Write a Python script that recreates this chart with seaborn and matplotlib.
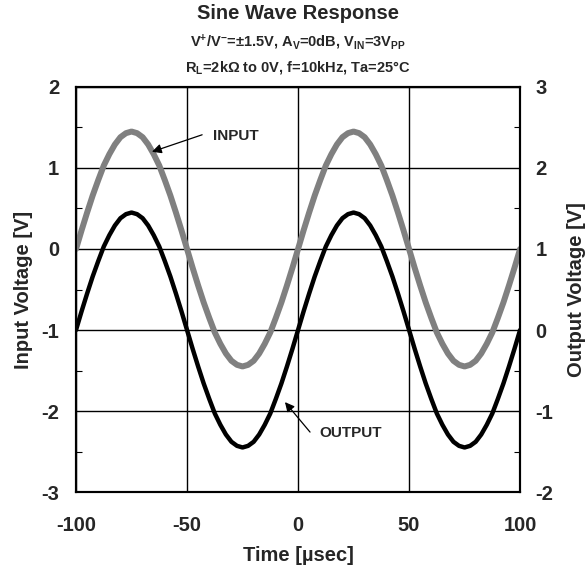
import numpy as np
import pandas as pd
import seaborn as sns
import matplotlib.pyplot as plt

# time axis [usec], sampled every 2.5 usec
time_us = np.arange(-100, 100.1, 2.5)

# input voltage [V]
input_v = [0.00, 0.23, 0.45, 0.66, 0.85, 1.03, 1.17, 1.29, 1.38, 1.43,
           1.45, 1.43, 1.38, 1.29, 1.17, 1.03, 0.85, 0.66, 0.45, 0.23,
           0.00, -0.23, -0.45, -0.66, -0.85, -1.03, -1.17, -1.29, -1.38, -1.43,
           -1.45, -1.43, -1.38, -1.29, -1.17, -1.03, -0.85, -0.66, -0.45, -0.23,
           0.00, 0.23, 0.45, 0.66, 0.85, 1.03, 1.17, 1.29, 1.38, 1.43,
           1.45, 1.43, 1.38, 1.29, 1.17, 1.03, 0.85, 0.66, 0.45, 0.23,
           0.00, -0.23, -0.45, -0.66, -0.85, -1.03, -1.17, -1.29, -1.38, -1.43,
           -1.45, -1.43, -1.38, -1.29, -1.17, -1.03, -0.85, -0.66, -0.45, -0.23,
           0.00]

# output voltage [V]
output_v = [0.00, 0.23, 0.45, 0.66, 0.85, 1.03, 1.17, 1.29, 1.38, 1.43,
            1.45, 1.43, 1.38, 1.29, 1.17, 1.03, 0.85, 0.66, 0.45, 0.23,
            0.00, -0.23, -0.45, -0.66, -0.85, -1.03, -1.17, -1.29, -1.38, -1.43,
            -1.45, -1.43, -1.38, -1.29, -1.17, -1.03, -0.85, -0.66, -0.45, -0.23,
            0.00, 0.23, 0.45, 0.66, 0.85, 1.03, 1.17, 1.29, 1.38, 1.43,
            1.45, 1.43, 1.38, 1.29, 1.17, 1.03, 0.85, 0.66, 0.45, 0.23,
            0.00, -0.23, -0.45, -0.66, -0.85, -1.03, -1.17, -1.29, -1.38, -1.43,
            -1.45, -1.43, -1.38, -1.29, -1.17, -1.03, -0.85, -0.66, -0.45, -0.23,
            0.00]

x_ticks = [-100, -50, 0, 50, 100]
left_ticks = [-3, -2, -1, 0, 1, 2]
right_ticks = [-2, -1, 0, 1, 2, 3]

df = pd.DataFrame({'time': time_us, 'input': input_v, 'output': output_v})

sns.set_style('white')
plt.rcParams['font.family'] = ['Liberation Sans', 'DejaVu Sans']
plt.rcParams['font.weight'] = 'bold'
plt.rcParams['axes.unicode_minus'] = False
plt.rcParams['mathtext.fontset'] = 'custom'
plt.rcParams['mathtext.rm'] = 'Liberation Sans:bold'
plt.rcParams['mathtext.it'] = 'Liberation Sans:bold'
plt.rcParams['mathtext.bf'] = 'Liberation Sans:bold'

fig = plt.figure(figsize=(5.87, 5.70), dpi=100)
ax = fig.add_axes([0.1295, 0.1368, 0.7565, 0.7106])
ax2 = ax.twinx()

sns.lineplot(data=df, x='time', y='input', ax=ax, color='#808080', lw=4.3, zorder=3)
sns.lineplot(data=df, x='time', y='output', ax=ax2, color='black', lw=3.2, zorder=3)

ax.set_xlim(-100, 100)
ax.set_ylim(-3, 2)
ax2.set_ylim(-2, 3)
ax.set_xticks(x_ticks)
ax.set_yticks(left_ticks)
ax2.set_yticks(right_ticks)
ax.set_xticks([-75, -25, 25, 75], minor=True)
ax.set_yticks(np.arange(-2.5, 2, 1.0), minor=True)
ax2.set_yticks(np.arange(-1.5, 3, 1.0), minor=True)

ax.grid(True, which='major', color='black', lw=1.0)
ax.set_axisbelow(True)
for a in (ax, ax2):
    for s in a.spines.values():
        s.set_color('black')
        s.set_linewidth(1.5)
ax.tick_params(which='major', length=0, labelsize=14.5, pad=12)
ax.tick_params(axis='x', which='major', pad=17)
ax.tick_params(which='minor', direction='in', length=4, width=0.8, color='black')
ax2.tick_params(which='major', length=0, labelsize=14.5, pad=11)
ax2.tick_params(which='minor', direction='in', length=4, width=0.8, color='black')

ax.set_xlabel('Time [µsec]', fontsize=14.5, fontweight='bold', labelpad=8)
ax.set_ylabel('Input Voltage [V]', fontsize=14.5, fontweight='bold', labelpad=6)
ax2.set_ylabel('Output Voltage [V]', fontsize=14.5, fontweight='bold', labelpad=10)

arrow = dict(arrowstyle='-|>', color='black', lw=0.9, mutation_scale=14, shrinkA=0, shrinkB=0)
ax.annotate('', xy=(-65.8, 1.20), xytext=(-43.2, 1.41), arrowprops=arrow)
ax.text(-38.5, 1.40, 'INPUT', fontsize=11, fontweight='bold', ha='left', va='center')
ax.annotate('', xy=(-5.9, -1.89), xytext=(5.4, -2.26), arrowprops=arrow)
ax.text(9.5, -2.27, 'OUTPUT', fontsize=11, fontweight='bold', ha='left', va='center')

fig.text(0.508, 0.976, 'Sine Wave Response', ha='center', va='center', fontsize=14.5, fontweight='bold')
fig.text(0.508, 0.926, r'V$^{+}$/V$^{-}$=±1.5V, A$_{V}$=0dB, V$_{IN}$=3V$_{PP}$',
         ha='center', va='center', fontsize=10.5, fontweight='bold')
fig.text(0.508, 0.882, r'R$_{L}$=2kΩ to 0V, f=10kHz, Ta=25°C',
         ha='center', va='center', fontsize=10.5, fontweight='bold')

plt.savefig('out.png', dpi=100)
